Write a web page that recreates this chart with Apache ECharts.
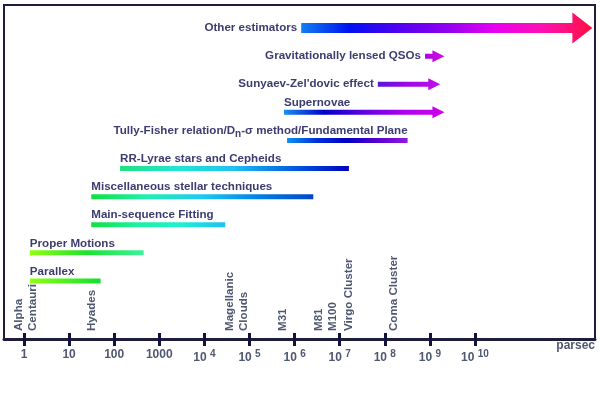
<!DOCTYPE html>
<html><head><meta charset="utf-8">
<script src="https://cdn.jsdelivr.net/npm/echarts@6/dist/echarts.min.js"></script>
<style>html,body{margin:0;padding:0;background:#fff}#c{width:600px;height:400px}</style>
</head><body><div id="c"></div>
<script>
// ---- data (distances in parsec) ----
const methods = ['Other estimators', 'Gravitationally lensed QSOs', "Sunyaev-Zel'dovic effect", 'Supernovae',
  'Tully-Fisher relation/D{sub|n}-σ method/Fundamental Plane', 'RR-Lyrae stars and Cepheids',
  'Miscellaneous stellar techniques', 'Main-sequence Fitting', 'Proper Motions', 'Parallex'];
const rangeStart = [1.4e6, 7.8e8, 7.0e7, 5.8e5, 6.8e5, 135, 31, 31, 1.35, 1.35];
const rangeEnd   = [4.0e12, 2.1e9, 1.7e9, 2.1e9, 3.2e8, 1.6e7, 2.6e6, 2.9e4, 450, 50];
const openEnded  = [true, true, true, true, false, false, false, false, false, false];
const tickExponents = [0, 1, 2, 3, 4, 5, 6, 7, 8, 9, 10];
const landmarks    = ['Alpha\nCentauri', 'Hyades', 'Magellanic\nClouds', 'M31', 'M81', 'M100', 'Virgo Cluster', 'Coma Cluster'];
const landmarkDist = [1.1, 32, 5.2e4, 5.6e5, 3.4e6, 7.0e6, 1.6e7, 1.6e8];

// ---- styling ----
const labelPlacement = ['left', 'left', 'left', 'above', 'aboveEnd', 'above', 'above', 'above', 'above', 'above'];
const barColors = [
  ['#1080f0', '#0010f0', '#5000f0', '#9000f0', '#e800f0', '#ff10b0', '#ff1040'],
  ['#b000e0', '#d010e0'],
  ['#5a14d8', '#a008e8', '#c010e8'],
  ['#1890f0', '#0000c8', '#6000e0', '#b000f0', '#d000e8'],
  ['#1090f0', '#0030d8', '#0000c0', '#5800d0', '#9418e0'],
  ['#20e080', '#20e8d0', '#20c0f0', '#0060e0', '#0000c0'],
  ['#10e040', '#20f0b0', '#20c8f0', '#0080e8', '#0048c8'],
  ['#10e040', '#20f0a0', '#20f0d0', '#20c0f0'],
  ['#90ff10', '#20e030', '#40f0a0'],
  ['#90ff10', '#10e030']
];
const textColor = '#3c3c70';
const axisTextColor = '#4e5870';
const FAM = '"Liberation Sans", Arial, sans-serif';
const font = 'bold 11.6px ' + FAM;
const X_MIN = -0.443, X_MAX = 12.66;

const barData = methods.map((m, i) => [Math.log10(rangeStart[i]), Math.log10(rangeEnd[i]), i]);
const landmarkData = landmarkDist.map((d, i) => [Math.log10(d), 0, i]);

function renderBar(params, api) {
  const i = params.dataIndex;
  const p0 = api.coord([api.value(0), api.value(2)]);
  const p1 = api.coord([api.value(1), api.value(2)]);
  const big = i === 0;
  const th = big ? 10 : 5, hl = big ? 20 : 12, hh = big ? 31 : 12;
  const y = p0[1], xa = p0[0], xb = p1[0];
  let pts;
  if (openEnded[i]) {
    const xh = xb - hl;
    pts = [[xa, y - th / 2], [xh, y - th / 2], [xh, y - hh / 2], [xb, y], [xh, y + hh / 2], [xh, y + th / 2], [xa, y + th / 2]];
  } else {
    pts = [[xa, y - th / 2], [xb, y - th / 2], [xb, y + th / 2], [xa, y + th / 2]];
  }
  const cols = barColors[i];
  const stops = cols.map((c, k) => ({ offset: k / (cols.length - 1), color: c }));
  let tx, ty, align;
  const pl = labelPlacement[i];
  if (pl === 'left') { tx = xa - 4; ty = y; align = 'right'; }
  else if (pl === 'aboveEnd') { tx = xb; ty = y - 9.5; align = 'right'; }
  else { tx = xa; ty = y - 9.5; align = 'left'; }
  return {
    type: 'group',
    children: [
      { type: 'polygon', shape: { points: pts }, style: { fill: { type: 'linear', x: 0, y: 0, x2: 1, y2: 0, colorStops: stops } } },
      { type: 'text', x: tx, y: ty, style: {
          text: methods[i], font: font, fill: textColor, align: align, verticalAlign: 'middle',
          rich: { sub: { font: 'bold 10px ' + FAM, fill: textColor, padding: [6, 0, 0, 0] } }
      } }
    ]
  };
}

function renderLandmark(params, api) {
  const i = params.dataIndex;
  const p = api.coord([api.value(0), 0]);
  return {
    type: 'text', x: p[0], y: p[1] - 8, rotation: Math.PI / 2,
    style: { text: landmarks[i], font: font, fill: axisTextColor, align: 'left', verticalAlign: 'middle', lineHeight: 14 }
  };
}

const chart = echarts.init(document.getElementById('c'), null, { renderer: 'canvas' });
chart.setOption({
  animation: false,
  backgroundColor: '#ffffff',
  grid: [
    { left: 4, right: 5, top: 5, bottom: 61, show: true, borderColor: '#1e1e3c', borderWidth: 2, backgroundColor: 'transparent' },
    { left: 4, right: 5, top: 14, bottom: 105 },
    { left: 4, right: 5, top: 5, bottom: 61 }
  ],
  xAxis: [
    { type: 'value', gridIndex: 0, min: X_MIN, max: X_MAX, splitLine: { show: false },
      axisLine: { show: true, lineStyle: { color: '#1e1e3c', width: 3 } },
      axisTick: { show: true, length: 7, lineStyle: { color: '#12123e', width: 3 }, customValues: tickExponents },
      axisLabel: { show: true, margin: 10, customValues: tickExponents, color: axisTextColor,
        fontFamily: FAM, fontWeight: 'bold', fontSize: 12,
        formatter: v => v === 0 ? '1' : v === 1 ? '10' : v === 2 ? '100' : v === 3 ? '1000' : '10 {sup|' + v + '}',
        rich: { sup: { fontSize: 10, fontWeight: 'bold', color: axisTextColor, fontFamily: FAM, padding: [0, 0, 7, 0] } } },
      name: 'parsec', nameLocation: 'end', nameGap: 0,
      nameTextStyle: { color: axisTextColor, fontWeight: 'bold', fontSize: 12, fontFamily: FAM, align: 'right', verticalAlign: 'top', padding: [1, 0, 0, 0] } },
    { type: 'value', gridIndex: 1, min: X_MIN, max: X_MAX, show: false },
    { type: 'value', gridIndex: 2, min: X_MIN, max: X_MAX, splitLine: { show: false },
      axisLine: { show: false },
      axisTick: { show: true, inside: true, length: 6, lineStyle: { color: '#12123e', width: 3 }, customValues: tickExponents },
      axisLabel: { show: false } }
  ],
  yAxis: [
    { type: 'value', gridIndex: 0, min: 0, max: 1, show: false },
    { type: 'category', gridIndex: 1, data: methods, inverse: true, show: false },
    { type: 'value', gridIndex: 2, min: 0, max: 1, show: false }
  ],
  series: [
    { type: 'custom', xAxisIndex: 1, yAxisIndex: 1, data: barData, encode: { x: [0, 1], y: 2 }, renderItem: renderBar, clip: false },
    { type: 'custom', xAxisIndex: 0, yAxisIndex: 0, data: landmarkData, encode: { x: 0, y: 1 }, renderItem: renderLandmark, clip: false }
  ]
});
</script>
</body></html>
